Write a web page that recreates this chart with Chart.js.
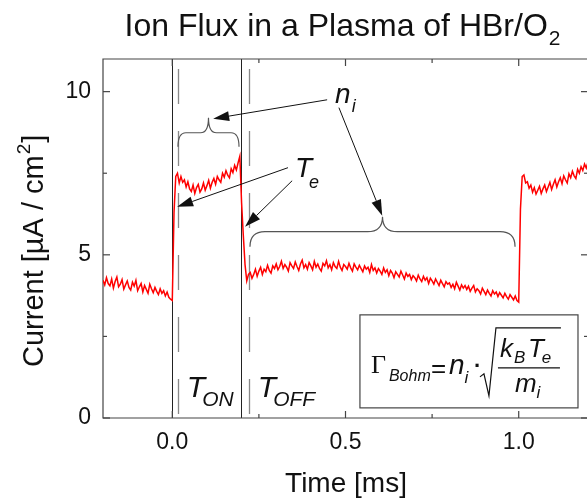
<!DOCTYPE html>
<html>
<head>
<meta charset="utf-8">
<title>Ion Flux in a Plasma of HBr/O2</title>
<script src="https://cdn.jsdelivr.net/npm/chart.js@4.4.1/dist/chart.umd.min.js"></script>
<style>
  html, body { margin: 0; padding: 0; background: #fff; overflow: hidden; }
  #wrap { width: 587px; height: 500px; overflow: hidden; }
  canvas { display: block; }
</style>
</head>
<body>
<div id="wrap"><canvas id="flux" width="600" height="500"></canvas></div>
<script>
/* ============================================
   ION FLUX TRACE — pulsed HBr/O2 plasma
   ============================================ */

const FONT = '"Liberation Sans", Arial, sans-serif';

// sampling of the probe trace
const TIME_START = -0.2;   // ms
const TIME_STEP  = 0.005;  // ms

// probe current [µA/cm²], phase by phase
const BEFORE_PULSE = [
  4.22, 4.08, 4.30, 4.12, 4.05, 4.26, 3.98, 4.18, 4.32, 4.02,
  4.10, 4.24, 3.95, 4.08, 4.20, 4.00, 3.92, 4.16, 4.04, 4.22,
  3.90, 4.02, 4.12, 3.86, 4.06, 3.94, 3.82, 4.10, 3.96, 3.84,
  4.00, 3.88, 3.78, 3.96, 3.82, 3.90, 3.74, 3.86, 3.70, 3.64
];
const RISE_ON = [3.60, 6.30, 7.40, 7.50, 7.20];
const PULSE_ON = [
  7.40, 7.22, 7.30, 7.08, 7.24,
  7.02, 6.94, 7.14, 6.88, 7.06,
  7.16, 6.92, 7.02, 7.20, 6.98,
  7.12, 7.28, 7.04, 7.22, 7.34,
  7.16, 7.40, 7.30, 7.22, 7.50,
  7.38, 7.58, 7.44, 7.36, 7.64,
  7.52, 7.74, 7.60, 7.82, 8.02
];
const FALL_OFF = [6.60, 5.60, 4.70, 4.20, 4.40];
const PULSE_OFF = [
  4.46, 4.28, 4.40, 4.56, 4.34,
  4.50, 4.62, 4.40, 4.56, 4.48, 4.68, 4.52, 4.44, 4.66, 4.58,
  4.72, 4.54, 4.64, 4.80, 4.58, 4.70, 4.62, 4.50, 4.76, 4.66,
  4.58, 4.78, 4.64, 4.52, 4.72, 4.84, 4.60, 4.70, 4.56, 4.76,
  4.66, 4.54, 4.80, 4.62, 4.72, 4.58, 4.50, 4.74, 4.66, 4.82,
  4.60, 4.70, 4.54, 4.76, 4.64, 4.58, 4.80, 4.62, 4.52, 4.70,
  4.64, 4.56, 4.74, 4.60, 4.50, 4.72, 4.62, 4.54, 4.68, 4.58,
  4.48, 4.66, 4.56, 4.62, 4.46, 4.70, 4.52, 4.60, 4.44, 4.58,
  4.50, 4.40, 4.60, 4.46, 4.54, 4.36, 4.52, 4.44, 4.30, 4.48,
  4.40, 4.32, 4.50, 4.38, 4.26, 4.44, 4.34, 4.40, 4.24, 4.36,
  4.30, 4.20, 4.38, 4.26, 4.18, 4.34, 4.22, 4.30, 4.12, 4.28,
  4.20, 4.10, 4.26, 4.16, 4.06, 4.22, 4.12, 4.02, 4.18, 4.10,
  4.14, 4.00, 4.10, 3.96, 4.16, 4.04, 3.92, 4.08, 3.98, 4.06,
  3.94, 4.04, 3.88, 3.98, 4.06, 3.86, 3.96, 3.90, 3.80, 3.98,
  3.88, 3.78, 3.92, 3.82, 3.74, 3.90, 3.80, 3.86, 3.72, 3.84,
  3.76, 3.68, 3.82, 3.72, 3.64, 3.78, 3.70, 3.62, 3.74, 3.60
];
const RISE_NEXT = [3.55, 6.40, 7.40, 7.45, 7.20];
const NEXT_ON = [
  7.24, 7.04, 7.14, 6.92, 7.06,
  6.86, 6.98, 7.10, 6.88, 7.02,
  7.14, 6.94, 7.08, 7.22, 7.00,
  7.16, 7.30, 7.08, 7.24, 7.36,
  7.18, 7.42, 7.30, 7.20, 7.48,
  7.36, 7.56, 7.42, 7.34, 7.62,
  7.50, 7.70, 7.58, 7.78, 7.66, 7.84
];

// axes
const X_MIN = -0.2, X_MAX = 1.2;
const Y_MIN = 0,    Y_MAX = 11;
const X_TICKS = [0, 0.5, 1.0];
const X_MINOR = [0.25, 0.75];
const Y_TICKS = [0, 5, 10];
const Y_MINOR = [2.5, 7.5];

// pulse markers [ms]
const PULSE_EDGES = [0, 0.197];     // solid
const DELAY_MARKS = [0.017, 0.22];  // dashed

// ─── Helpers ─────────────────────────────────────────────────────────────────

const current = [].concat(BEFORE_PULSE, RISE_ON, PULSE_ON, FALL_OFF, PULSE_OFF, RISE_NEXT, NEXT_ON);
const points = current.map((v, i) => ({ x: TIME_START + i * TIME_STEP, y: v }));

function seg(ctx, x0, y0, x1, y1) {
  ctx.beginPath(); ctx.moveTo(x0, y0); ctx.lineTo(x1, y1); ctx.stroke();
}

function arrow(ctx, x0, y0, x1, y1) {
  const ang = Math.atan2(y1 - y0, x1 - x0);
  const len = 16, half = 5;
  const bx = x1 - len * Math.cos(ang), by = y1 - len * Math.sin(ang);
  seg(ctx, x0, y0, bx, by);
  ctx.beginPath();
  ctx.moveTo(x1, y1);
  ctx.lineTo(bx + half * Math.sin(ang), by - half * Math.cos(ang));
  ctx.lineTo(bx - half * Math.sin(ang), by + half * Math.cos(ang));
  ctx.closePath();
  ctx.fill();
}

// curly brace opening downwards, tip pointing up
function brace(ctx, x0, x1, yEnd, yBar, yTip, r) {
  const xm = (x0 + x1) / 2;
  ctx.beginPath();
  ctx.moveTo(x0, yEnd);
  ctx.quadraticCurveTo(x0, yBar, x0 + r, yBar);
  ctx.lineTo(xm - r, yBar);
  ctx.quadraticCurveTo(xm, yBar, xm, yTip);
  ctx.quadraticCurveTo(xm, yBar, xm + r, yBar);
  ctx.lineTo(x1 - r, yBar);
  ctx.quadraticCurveTo(x1, yBar, x1, yEnd);
  ctx.stroke();
}

// italic symbol with a subscript
function symbol(ctx, main, sub, x, y, size, subSize, gap, drop) {
  ctx.font = `italic ${size}px ${FONT}`;
  ctx.fillText(main, x, y);
  const w = ctx.measureText(main).width;
  ctx.font = `italic ${subSize}px ${FONT}`;
  ctx.fillText(sub, x + w + gap, y + drop);
}

// ─── Frame, ticks, pulse markers ─────────────────────────────────────────────

const frame = {
  id: 'frame',
  beforeDatasetsDraw(chart) {
    const { ctx, chartArea: a, scales: { x, y } } = chart;
    ctx.save();

    ctx.strokeStyle = '#222';
    ctx.lineWidth = 1;
    PULSE_EDGES.forEach(t => {
      const px = Math.round(x.getPixelForValue(t)) + 0.5;
      seg(ctx, px, a.top, px, a.bottom);
    });

    ctx.strokeStyle = '#888';
    ctx.lineWidth = 1.3;
    ctx.setLineDash([35, 27]);
    DELAY_MARKS.forEach(t => {
      const px = Math.round(x.getPixelForValue(t)) + 0.5;
      seg(ctx, px, a.top + 10, px, a.bottom);
    });
    ctx.setLineDash([]);

    // box: top, left, bottom (right edge sits just off the page)
    ctx.strokeStyle = '#444';
    ctx.lineWidth = 1.2;
    ctx.beginPath();
    ctx.moveTo(a.right, a.top); ctx.lineTo(a.left, a.top);
    ctx.lineTo(a.left, a.bottom); ctx.lineTo(a.right, a.bottom);
    ctx.stroke();

    // inward ticks on all four sides
    const xt = (list, l) => list.forEach(t => {
      const px = x.getPixelForValue(t);
      seg(ctx, px, a.bottom, px, a.bottom - l);
      seg(ctx, px, a.top, px, a.top + l);
    });
    const yt = (list, l) => list.forEach(v => {
      const py = y.getPixelForValue(v);
      seg(ctx, a.left, py, a.left + l, py);
      seg(ctx, a.right, py, a.right - l, py);
    });
    xt(X_TICKS, 7); xt(X_MINOR, 4);
    yt(Y_TICKS, 7); yt(Y_MINOR, 4);
    ctx.restore();
  }
};

// ─── Annotations ─────────────────────────────────────────────────────────────

const ARROWS = [
  { from: [0.447, 9.75], to: [0.118, 9.17] },   // n_i -> ON brace
  { from: [0.481, 9.51], to: [0.606, 6.20] },   // n_i -> OFF brace
  { from: [0.334, 7.67], to: [0.014, 6.47] },   // T_e -> rising edge
  { from: [0.346, 7.27], to: [0.210, 5.86] }    // T_e -> falling edge
];
const BRACES = [
  { t0: 0.0164, t1: 0.1926, end: 8.31, bar: 8.74, tip: 9.20, r: 8 },
  { t0: 0.2243, t1: 0.9894, end: 5.25, bar: 5.71, tip: 6.17, r: 15 }
];
const FORMULA_BOX = { t0: 0.5417, t1: 1.1711, top: 3.16, bottom: 0.31 };

const notes = {
  id: 'notes',
  afterDraw(chart) {
    const { ctx, scales: { x, y } } = chart;
    const X = t => x.getPixelForValue(t);
    const Y = v => y.getPixelForValue(v);
    ctx.save();
    ctx.textBaseline = 'alphabetic';
    ctx.fillStyle = '#111';

    // title
    ctx.font = `32px ${FONT}`;
    const t1 = 'Ion Flux in a Plasma of HBr/O';
    const w1 = ctx.measureText(t1).width;
    ctx.font = `21px ${FONT}`;
    const w2 = ctx.measureText('2').width;
    let tx = 342 - (w1 + w2) / 2;
    ctx.font = `32px ${FONT}`;
    ctx.fillText(t1, tx, 36);
    ctx.font = `21px ${FONT}`;
    ctx.fillText('2', tx + w1 + 1, 45);

    // axis titles
    ctx.font = `28px ${FONT}`;
    ctx.textAlign = 'center';
    ctx.fillText('Time [ms]', 346, 492);
    ctx.textAlign = 'left';

    ctx.save();
    ctx.translate(43, 367);
    ctx.rotate(-Math.PI / 2);
    ctx.font = `29px ${FONT}`;
    const ya = 'Current [µA / cm';
    const wa = ctx.measureText(ya).width;
    ctx.fillText(ya, 0, 0);
    ctx.font = `19px ${FONT}`;
    ctx.fillText('2', wa + 1, -13);
    const wb = ctx.measureText('2').width;
    ctx.font = `29px ${FONT}`;
    ctx.fillText(']', wa + wb + 2, 0);
    ctx.restore();

    // braces
    ctx.strokeStyle = '#555';
    ctx.lineWidth = 1.2;
    BRACES.forEach(b => brace(ctx, X(b.t0), X(b.t1), Y(b.end), Y(b.bar), Y(b.tip), b.r));

    // arrows
    ctx.strokeStyle = '#111';
    ctx.lineWidth = 1;
    ARROWS.forEach(a => arrow(ctx, X(a.from[0]), Y(a.from[1]), X(a.to[0]), Y(a.to[1])));

    // labels
    symbol(ctx, 'n', 'i', X(0.47), Y(9.66), 28, 18, 1, 9);
    symbol(ctx, 'T', 'e', X(0.354), Y(7.39), 28, 18, -3, 11);
    symbol(ctx, 'T', 'ON', X(0.042), Y(0.64), 30, 21, -3, 9);
    symbol(ctx, 'T', 'OFF', X(0.247), Y(0.64), 30, 21, -3, 9);

    // Bohm flux formula
    const bx = X(FORMULA_BOX.t0), by = Y(FORMULA_BOX.top);
    const bw = X(FORMULA_BOX.t1) - bx, bh = Y(FORMULA_BOX.bottom) - by;
    ctx.fillStyle = '#fff';
    ctx.fillRect(bx, by, bw, bh);
    ctx.strokeStyle = '#444';
    ctx.lineWidth = 1.2;
    ctx.strokeRect(bx, by, bw, bh);

    ctx.fillStyle = '#111';
    ctx.font = '26px "Liberation Serif", "DejaVu Serif", serif';
    ctx.fillText('Γ', bx + 11, by + 58);
    ctx.font = `italic 16px ${FONT}`;
    ctx.fillText('Bohm', bx + 29, by + 66);
    ctx.font = `26px ${FONT}`;
    ctx.fillText('=', bx + 71, by + 62);
    symbol(ctx, 'n', 'i', bx + 89, by + 59, 28, 17, 0, 9);
    ctx.font = `bold 22px ${FONT}`;
    ctx.fillText('·', bx + 114, by + 58);

    ctx.strokeStyle = '#111';
    ctx.lineWidth = 1.2;
    ctx.beginPath();
    ctx.moveTo(bx + 120, by + 62);
    ctx.lineTo(bx + 124, by + 59);
    ctx.lineTo(bx + 129, by + 81);
    ctx.lineTo(bx + 136, by + 13);
    ctx.lineTo(bx + 201, by + 13);
    ctx.stroke();
    seg(ctx, bx + 138, by + 53, bx + 200, by + 53);

    symbol(ctx, 'k', 'B', bx + 140, by + 42, 26, 17, 1, 6);
    symbol(ctx, 'T', 'e', bx + 168, by + 42, 26, 17, -2, 6);
    symbol(ctx, 'm', 'i', bx + 155, by + 77, 26, 17, 0, 6);
    ctx.restore();
  }
};

// ─── Chart ───────────────────────────────────────────────────────────────────

new Chart(document.getElementById('flux'), {
  type: 'line',
  data: {
    datasets: [{
      data: points,
      borderColor: '#ff0000',
      borderWidth: 1.5,
      pointRadius: 0,
      tension: 0,
      fill: false
    }]
  },
  options: {
    responsive: false,
    animation: false,
    layout: { padding: { top: 59, right: 12, left: 0, bottom: 0 } },
    plugins: { legend: { display: false }, tooltip: { enabled: false } },
    scales: {
      x: {
        type: 'linear', min: X_MIN, max: X_MAX,
        grid: { display: false }, border: { display: false },
        afterBuildTicks: s => { s.ticks = X_TICKS.map(v => ({ value: v })); },
        afterFit: s => { s.height = 82; },
        ticks: {
          font: { size: 23, family: FONT }, color: '#111', padding: 3, maxRotation: 0,
          callback: v => v.toFixed(1)
        }
      },
      y: {
        type: 'linear', min: Y_MIN, max: Y_MAX,
        grid: { display: false }, border: { display: false },
        afterBuildTicks: s => { s.ticks = Y_TICKS.map(v => ({ value: v })); },
        afterFit: s => { s.width = 103; },
        ticks: {
          font: { size: 23, family: FONT }, color: '#111', padding: 4,
          callback: v => String(v)
        }
      }
    }
  },
  plugins: [frame, notes]
});
</script>
</body>
</html>
